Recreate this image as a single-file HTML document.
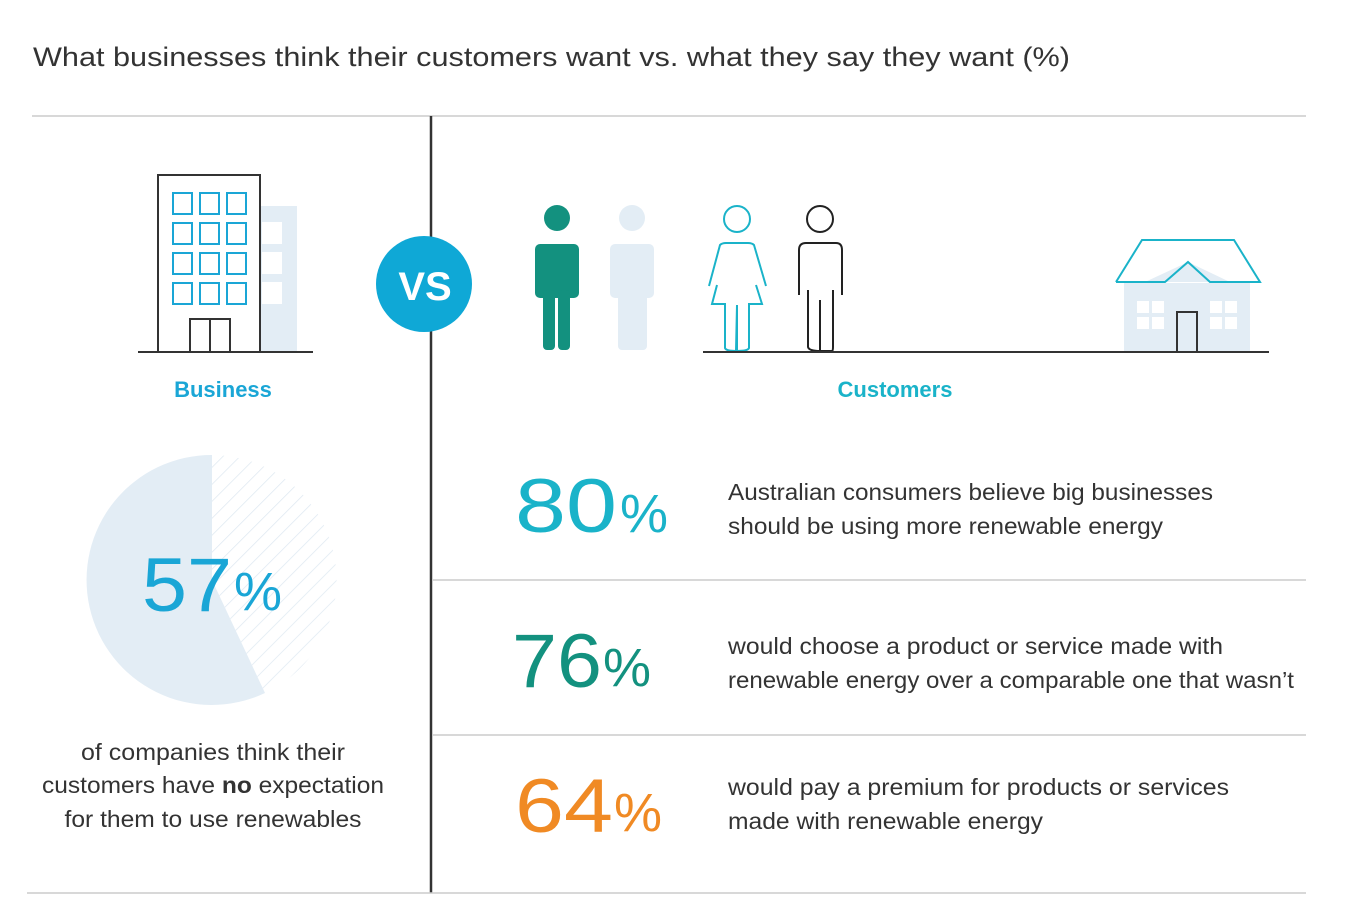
<!DOCTYPE html>
<html><head><meta charset="utf-8"><style>
body{margin:0;background:#fff}
svg{display:block}
text{font-family:"Liberation Sans",sans-serif}
</style></head><body>
<svg width="1360" height="909" viewBox="0 0 1360 909" xmlns="http://www.w3.org/2000/svg">
<defs>
<pattern id="h" width="12" height="12" patternUnits="userSpaceOnUse" patternTransform="rotate(45)">
<line x1="0" y1="0" x2="0" y2="12" stroke="#dfe9f2" stroke-width="1.5"/>
</pattern>
</defs>
<text x="33" y="66" font-size="27" fill="#333" textLength="1037" lengthAdjust="spacingAndGlyphs">What businesses think their customers want vs. what they say they want (%)</text>
<line x1="32" y1="116" x2="1306" y2="116" stroke="#ccc" stroke-width="1.5"/>
<line x1="431" y1="116" x2="431" y2="893" stroke="#333" stroke-width="2.5"/>
<line x1="27" y1="893" x2="1306" y2="893" stroke="#ccc" stroke-width="1.5"/>
<line x1="432" y1="580" x2="1306" y2="580" stroke="#ccc" stroke-width="1.5"/>
<line x1="432" y1="735" x2="1306" y2="735" stroke="#ccc" stroke-width="1.5"/>
<!-- building -->
<rect x="260" y="206" width="37" height="146" fill="#e3edf5"/>
<rect x="262" y="222" width="20" height="22" fill="#fff"/>
<rect x="262" y="252" width="20" height="22" fill="#fff"/>
<rect x="262" y="282" width="20" height="22" fill="#fff"/>
<rect x="158" y="175" width="102" height="177" fill="none" stroke="#333" stroke-width="2"/>
<g fill="none" stroke="#1aa6d6" stroke-width="2">
<rect x="173" y="193" width="19" height="21"/><rect x="200" y="193" width="19" height="21"/><rect x="227" y="193" width="19" height="21"/>
<rect x="173" y="223" width="19" height="21"/><rect x="200" y="223" width="19" height="21"/><rect x="227" y="223" width="19" height="21"/>
<rect x="173" y="253" width="19" height="21"/><rect x="200" y="253" width="19" height="21"/><rect x="227" y="253" width="19" height="21"/>
<rect x="173" y="283" width="19" height="21"/><rect x="200" y="283" width="19" height="21"/><rect x="227" y="283" width="19" height="21"/>
</g>
<rect x="190" y="319" width="40" height="33" fill="none" stroke="#333" stroke-width="2"/>
<line x1="210" y1="319" x2="210" y2="352" stroke="#333" stroke-width="2"/>
<line x1="138" y1="352" x2="313" y2="352" stroke="#333" stroke-width="2"/>
<text x="223" y="397" font-size="22" font-weight="bold" fill="#1aa6d6" text-anchor="middle">Business</text>
<!-- VS -->
<circle cx="424" cy="284" r="48" fill="#0fa8d6"/>
<text x="425" y="300" font-size="40" font-weight="bold" fill="#fff" text-anchor="middle">VS</text>
<!-- people -->
<circle cx="557" cy="218" r="13" fill="#13917f"/>
<rect x="535" y="244" width="44" height="54" rx="5" fill="#13917f"/>
<rect x="543" y="290" width="12" height="60" rx="4" fill="#13917f"/><rect x="558" y="290" width="12" height="60" rx="4" fill="#13917f"/>
<circle cx="632" cy="218" r="13" fill="#e3edf5"/>
<rect x="610" y="244" width="44" height="54" rx="5" fill="#e3edf5"/>
<rect x="618" y="290" width="29" height="60" rx="4" fill="#e3edf5"/>
<g fill="none" stroke="#1ab3c9" stroke-width="2">
<circle cx="737" cy="219" r="13"/>
<path d="M709 286 L720 245 Q722 243 726 243 L748 243 Q752 243 754 245 L766 286"/>
<path d="M717 285 L712 304 L725 304 L725 348 Q726 351 736 351 L737 305 M737 305 L737 351 Q748 351 749 348 L749 304 L762 304 L756 285"/>
</g>
<g fill="none" stroke="#222" stroke-width="2">
<circle cx="820" cy="219" r="13"/>
<path d="M799 295 L799 250 Q799 243 806 243 L836 243 Q842 243 842 250 L842 295"/>
<path d="M808 290 L808 347 Q809 351 820 351 L832 351 Q833 351 833 347 L833 290 M820 300 L820 351"/>
</g>
<!-- house -->
<rect x="1124" y="283" width="126" height="69" fill="#e3edf5"/>
<polygon points="1145,282 1188,262 1230,282" fill="#e3edf5"/>
<g fill="#fff">
<rect x="1137" y="301" width="12" height="12"/><rect x="1152" y="301" width="12" height="12"/>
<rect x="1137" y="317" width="12" height="12"/><rect x="1152" y="317" width="12" height="12"/>
<rect x="1210" y="301" width="12" height="12"/><rect x="1225" y="301" width="12" height="12"/>
<rect x="1210" y="317" width="12" height="12"/><rect x="1225" y="317" width="12" height="12"/>
</g>
<polyline points="1116,282 1142,240 1234,240 1260,282 1210,282 1188,262 1165,282 1116,282" fill="none" stroke="#1ab3c9" stroke-width="2"/>
<rect x="1177" y="312" width="20" height="40" fill="none" stroke="#333" stroke-width="2"/>
<line x1="703" y1="352" x2="1269" y2="352" stroke="#333" stroke-width="2"/>
<text x="895" y="397" font-size="22" font-weight="bold" fill="#1ab3c9" text-anchor="middle">Customers</text>
<!-- pie -->
<path d="M212 580 L212 455 A125 125 0 0 1 265 693 Z" fill="url(#h)"/>
<path d="M212 580 L265 693 A125 125 0 1 1 212 455 Z" fill="#e3edf5"/>
<text x="142" y="611" font-size="76" fill="#1aa6d6" textLength="90" lengthAdjust="spacingAndGlyphs">57</text>
<text x="234" y="610" font-size="54" fill="#1aa6d6">%</text>
<g font-size="23" fill="#333" text-anchor="middle">
<text x="213" y="760" textLength="264" lengthAdjust="spacingAndGlyphs">of companies think their</text>
<text x="213" y="793" textLength="342" lengthAdjust="spacingAndGlyphs">customers have <tspan font-weight="bold">no</tspan> expectation</text>
<text x="213" y="827" textLength="297" lengthAdjust="spacingAndGlyphs">for them to use renewables</text>
</g>
<!-- stats -->
<text x="515" y="532" font-size="76" fill="#1ab3c9" textLength="102" lengthAdjust="spacingAndGlyphs">80</text>
<text x="620" y="532" font-size="54" fill="#1ab3c9">%</text>
<text x="512" y="687" font-size="76" fill="#13917f" textLength="90" lengthAdjust="spacingAndGlyphs">76</text>
<text x="603" y="686" font-size="54" fill="#13917f">%</text>
<text x="515" y="832" font-size="76" fill="#f08a24" textLength="98" lengthAdjust="spacingAndGlyphs">64</text>
<text x="614" y="831" font-size="54" fill="#f08a24">%</text>
<g font-size="23" fill="#333">
<text x="728" y="500" textLength="485" lengthAdjust="spacingAndGlyphs">Australian consumers believe big businesses</text>
<text x="728" y="534" textLength="435" lengthAdjust="spacingAndGlyphs">should be using more renewable energy</text>
<text x="728" y="654" textLength="495" lengthAdjust="spacingAndGlyphs">would choose a product or service made with</text>
<text x="728" y="688" textLength="566" lengthAdjust="spacingAndGlyphs">renewable energy over a comparable one that wasn’t</text>
<text x="728" y="795" textLength="501" lengthAdjust="spacingAndGlyphs">would pay a premium for products or services</text>
<text x="728" y="829" textLength="315" lengthAdjust="spacingAndGlyphs">made with renewable energy</text>
</g>
</svg>
</body></html>
